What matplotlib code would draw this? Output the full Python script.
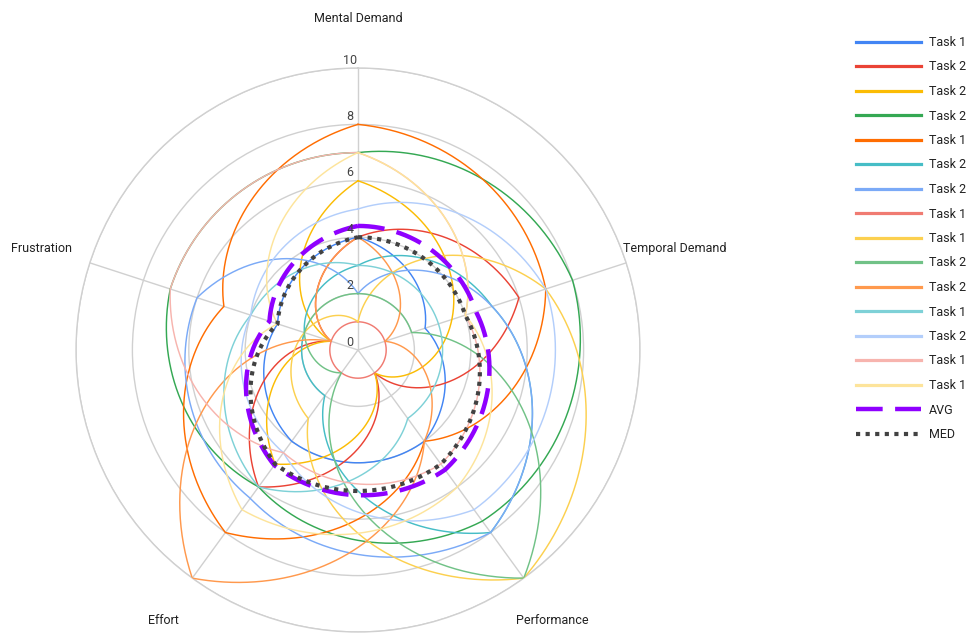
import numpy as np
import matplotlib
matplotlib.use("Agg")
import matplotlib.pyplot as plt
from matplotlib.lines import Line2D

plt.rcParams['font.family'] = ['Roboto', 'DejaVu Sans']

categories = ["Mental Demand", "Temporal Demand", "Performance", "Effort", "Frustration"]

series_labels = ["Task 1", "Task 2", "Task 2", "Task 2", "Task 1", "Task 2", "Task 2",
                 "Task 1", "Task 1", "Task 2", "Task 2", "Task 1", "Task 2", "Task 1", "Task 1"]
series_colors = ["#4285F4", "#EA4335", "#FBBC04", "#34A853", "#FF6D01", "#46BDC6", "#7BAAF7",
                 "#F07B72", "#FCD04F", "#71C287", "#FF994D", "#7ED1D7", "#B3CEFB", "#F7B4AE", "#FDE49B"]

# ratings per participant: Mental, Temporal, Performance, Effort, Frustration
p01 = [4, 2.5, 4, 4, 3]
p02 = [4, 6, 1, 6, 1]
p03 = [6, 3.5, 1, 5, 1]
p04 = [7, 8, 7.5, 6, 7]
p05 = [8, 7, 4, 8, 5]
p06 = [3, 5, 8, 2, 2]
p07 = [2, 5, 8, 6.5, 6]
p08 = [1, 1, 1, 1, 1]
p09 = [1, 7, 10, 3, 2]
p10 = [2, 2, 10, 1, 2]
p11 = [4, 1, 4, 10, 1]
p12 = [3, 3, 3, 6, 4]
p13 = [5, 7, 7, 4.5, 4]
p14 = [7, 4, 5, 4.5, 7]
p15 = [7, 4, 6, 7, 3]
participants = [p01, p02, p03, p04, p05, p06, p07, p08, p09, p10, p11, p12, p13, p14, p15]

avg_values = [4.4, 4.4, 5.25, 5.05, 3.3]
med_values = [4, 4, 5, 5, 3]

radial_ticks = [0, 2, 4, 6, 8, 10]

fig = plt.figure(figsize=(9.75, 6.36), dpi=100)
ax = fig.add_axes([76 / 975, 4 / 636, 564 / 975, 564 / 636], projection="polar")
ax.set_theta_zero_location("N")
ax.set_theta_direction(-1)

n = len(categories)
axis_theta = np.deg2rad(np.arange(n) * 360 / n)
theta_closed = np.append(axis_theta, 2 * np.pi)
theta_fine = np.linspace(0, 2 * np.pi, 721)


def spiral(values):
    # radial value changes linearly with angle between neighbouring axes
    closed = np.append(values, values[0])
    return np.interp(theta_fine, theta_closed, closed)


grid_c = "#d0d0d0"
ax.set_ylim(0, 10)
ax.set_yticks(radial_ticks[1:])
ax.set_yticklabels([])
ax.set_xticks(axis_theta)
ax.set_xticklabels([])
ax.grid(True, color=grid_c, linewidth=1.0)
ax.spines["polar"].set_color(grid_c)
ax.spines["polar"].set_linewidth(1.0)
ax.tick_params(length=0)

for vals, col in zip(participants, series_colors):
    ax.plot(theta_fine, spiral(vals), color=col, linewidth=1.05, zorder=3)

avg_style = dict(color="#8F00FF", linewidth=3.2, dashes=(6.0, 2.8), dash_capstyle="butt")
med_style = dict(color="#424242", linewidth=3.0, dashes=(1.0, 1.3), dash_capstyle="butt")
ax.plot(theta_fine, spiral(avg_values), zorder=5, **avg_style)
ax.plot(theta_fine, spiral(med_values), zorder=6, **med_style)

# radial tick labels along the Mental Demand axis
for v in radial_ticks:
    ax.annotate(str(v), xy=(0, v), xytext=(-8, 8), textcoords="offset pixels",
                ha="center", va="center", fontsize=9, color="#444444", zorder=7)

# category labels around the outer ring
label_offsets = [(0, 50, "center"), (-3, 14, "left"), (29, -42, "center"),
                 (-29, -42, "center"), (-18, 14, "right")]
for th, name, (dx, dy, ha) in zip(axis_theta, categories, label_offsets):
    ax.annotate(name, xy=(th, 10), xytext=(dx, dy), textcoords="offset pixels",
                ha=ha, va="center", fontsize=9, color="#222222", annotation_clip=False)

handles = [Line2D([], [], color=c, linewidth=2.3) for c in series_colors]
handles.append(Line2D([], [], **avg_style))
handles.append(Line2D([], [], **med_style))
fig.legend(handles, series_labels + ["AVG", "MED"], loc="upper left",
           bbox_to_anchor=(856 / 975, 1 - 36 / 636), frameon=False, fontsize=9,
           handlelength=5.2, handletextpad=0.65, labelspacing=0.92,
           borderpad=0, borderaxespad=0, labelcolor="#222222")

fig.savefig("out.png", dpi=100)
